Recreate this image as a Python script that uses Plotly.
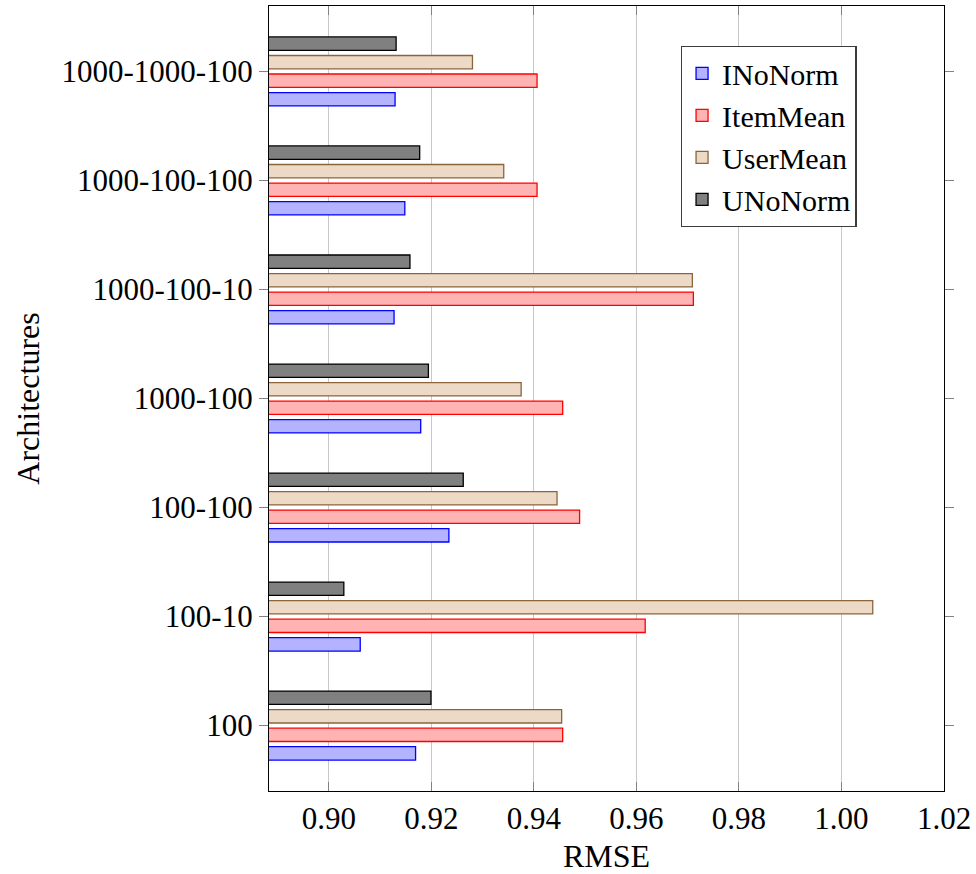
import plotly.graph_objects as go

# Network architectures, listed bottom to top
architectures = ["100", "100-10", "100-100", "1000-100", "1000-100-10", "1000-100-100", "1000-1000-100"]

# RMSE per normalisation scheme
inonorm = [0.9169, 0.9061, 0.9234, 0.9179, 0.9127, 0.9148, 0.9129]
itemmean = [0.9456, 0.9617, 0.9489, 0.9456, 0.9711, 0.9406, 0.9406]
usermean = [0.9454, 1.0061, 0.9445, 0.9375, 0.9709, 0.9341, 0.9280]
unonorm = [0.9199, 0.9029, 0.9262, 0.9194, 0.9158, 0.9177, 0.9131]

x_ticks = [0.90, 0.92, 0.94, 0.96, 0.98, 1.00, 1.02]

series = [
    ("INoNorm", inonorm, "rgb(179,179,255)", "rgb(0,0,255)"),
    ("ItemMean", itemmean, "rgb(255,179,179)", "rgb(255,0,0)"),
    ("UserMean", usermean, "rgb(236,217,198)", "rgb(140,100,60)"),
    ("UNoNorm", unonorm, "rgb(128,128,128)", "rgb(0,0,0)"),
]

FONT = "Liberation Serif"
TICK_SIZE = 31
TITLE_SIZE = 32

fig = go.Figure()
for name, vals, fill, line in series:
    fig.add_trace(go.Bar(
        y=architectures,
        x=vals,
        name=name,
        orientation="h",
        marker=dict(color=fill, line=dict(color=line, width=1.3)),
    ))

fig.update_layout(
    width=976,
    height=874,
    margin=dict(l=269, r=30, t=5, b=81),
    barmode="group",
    bargap=0.32,
    bargroupgap=0.28,
    plot_bgcolor="white",
    paper_bgcolor="white",
    font=dict(family=FONT, size=29, color="black"),
    legend=dict(
        x=0.61, y=0.949, xanchor="left", yanchor="top",
        traceorder="normal",
        bgcolor="white",
        bordercolor="rgb(60,60,60)",
        borderwidth=1.3,
        font=dict(family=FONT, size=30),
    ),
)

fig.update_xaxes(
    range=[0.8883, 1.02],
    tickvals=x_ticks,
    ticktext=[f"{v:.2f}" for v in x_ticks],
    showgrid=True,
    gridcolor="rgb(200,200,200)",
    gridwidth=1.3,
    showline=True,
    linecolor="black",
    linewidth=1.3,
    mirror="ticks",
    ticks="inside",
    ticklen=9,
    tickcolor="rgb(130,130,130)",
    tickfont=dict(family=FONT, size=TICK_SIZE),
    title=dict(text="RMSE", font=dict(family=FONT, size=TITLE_SIZE), standoff=10),
    zeroline=False,
)

fig.update_yaxes(
    type="category",
    categoryorder="array",
    categoryarray=architectures,
    range=[-0.6, 6.6],
    showgrid=False,
    showline=True,
    linecolor="black",
    linewidth=1.3,
    mirror="ticks",
    ticks="outside",
    ticklen=9,
    tickcolor="rgb(130,130,130)",
    tickfont=dict(family=FONT, size=TICK_SIZE),
    title=dict(text="Architectures", font=dict(family=FONT, size=TITLE_SIZE), standoff=12),
)

fig.write_html("out.html")
